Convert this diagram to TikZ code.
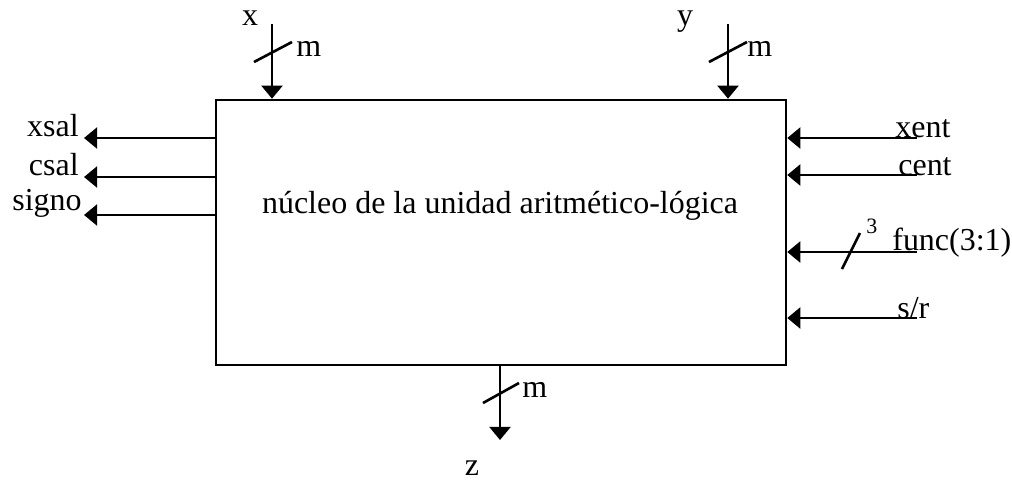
\documentclass[tikz,border=0pt]{standalone}
\usepackage{fontspec}
\setmainfont{Liberation Serif}
\usetikzlibrary{arrows.meta,positioning}

\tikzset{
  sig/.style={line width=1.5pt, -{Triangle[length=7.5pt, width=12pt]}},
  bus/.style={line width=1.5pt},
  lbl/.style={inner sep=0pt, font=\fontsize{18.2}{21}\selectfont},
}

\begin{document}
\begin{tikzpicture}[x=0.02cm, y=-0.02cm]
        \useasboundingbox (0,0) rectangle (1012,481);

        % ALU core
        \node[draw, line width=1.5pt, minimum width=11.4cm, minimum height=5.3cm] (core) at (501,232.5) {};
        \node[lbl, anchor=base] (title) at (500,213) {núcleo de la unidad aritmético-lógica};

        % Operand inputs x and y (m bits)
        \coordinate (xin) at (272,24);
        \coordinate (yin) at (728,24);
        \draw[sig] (xin) -- (xin |- core.north);
        \draw[sig] (yin) -- (yin |- core.north);
        \draw[bus] (254,62) -- (292,42);
        \draw[bus] (709,62) -- (747,42);
        \node[lbl, anchor=base] (xlbl) at (250,25) {x};
        \node[lbl, anchor=base] (ylbl) at (685,25) {y};
        \node[lbl, anchor=base west] (xm) at (296,56) {m};
        \node[lbl, anchor=base west] (ym) at (747,56) {m};

        % Outputs on the left
        \coordinate (xsalend) at (84,138);
        \coordinate (csalend) at (84,177);
        \coordinate (signoend) at (84,215);
        \draw[sig] (core.west |- xsalend) -- (xsalend);
        \draw[sig] (core.west |- csalend) -- (csalend);
        \draw[sig] (core.west |- signoend) -- (signoend);
        \node[lbl, anchor=base east] (xsal) at (79,136) {xsal};
        \node[lbl, anchor=base east] (csal) at (79,175) {csal};
        \node[lbl, anchor=base east] (signo) at (82,210) {signo};

        % Inputs on the right
        \coordinate (xentin) at (917,138);
        \coordinate (centin) at (917,175);
        \coordinate (funcin) at (917,252);
        \coordinate (srin) at (917,318);
        \draw[sig] (xentin) -- (core.east |- xentin);
        \draw[sig] (centin) -- (core.east |- centin);
        \draw[sig] (funcin) -- (core.east |- funcin);
        \draw[sig] (srin) -- (core.east |- srin);
        \draw[bus] (842,269) -- (860,233);
        \node[lbl, anchor=base west] (xent) at (895,137) {xent};
        \node[lbl, anchor=base west] (cent) at (898,175) {cent};
        \node[lbl, anchor=base west] (func) at (892,250) {func(3:1)};
        \node[lbl, anchor=base west, font=\fontsize{12.5}{14}\selectfont] (fbits) at (866,233) {3};
        \node[lbl, anchor=base west] (sr) at (897,318) {s/r};

        % Result z (m bits)
        \coordinate (zout) at (500,440);
        \draw[sig] (core.south -| zout) -- (zout);
        \draw[bus] (483,403) -- (519,383);
        \node[lbl, anchor=base west] (zm) at (522,397) {m};
        \node[lbl, anchor=base] (zlbl) at (472,475) {z};
\end{tikzpicture}
\end{document}
